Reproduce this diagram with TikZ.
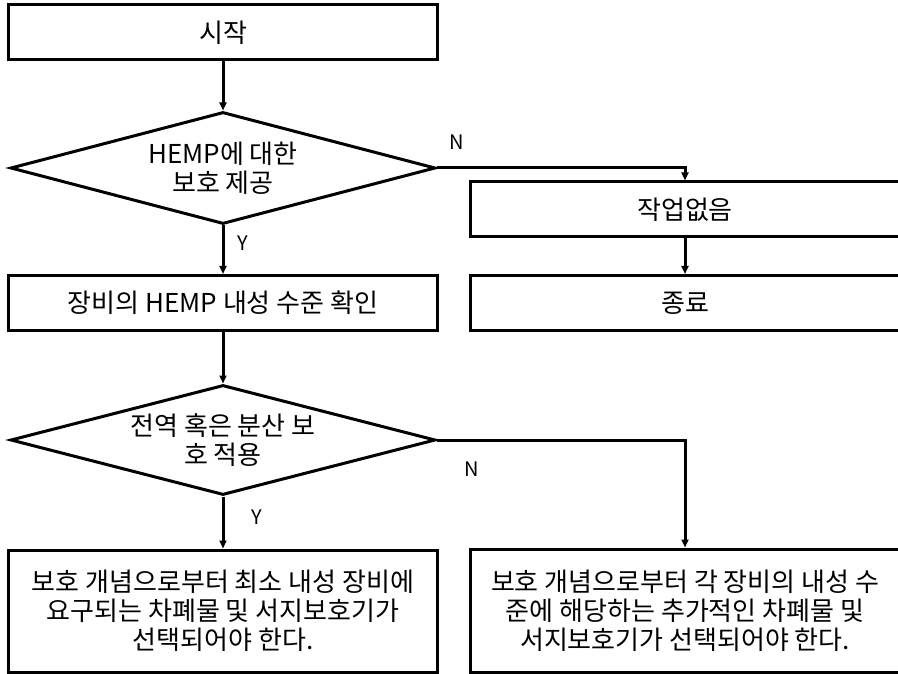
\documentclass[tikz,border=0pt]{standalone}
\usepackage{fontspec}
\setmainfont{Noto Sans CJK KR}
\usetikzlibrary{shapes.geometric,arrows.meta}

\begin{document}
\begin{tikzpicture}[
    x=1pt, y=1pt,
    line width=3pt,
    font=\fontsize{26}{29}\selectfont,
    box/.style={draw, minimum width=429pt, minimum height=55pt, align=center, inner sep=0pt},
    rbox/.style={box, minimum width=430pt},
    cond/.style={draw, shape=diamond, aspect=3.8, minimum width=425pt, minimum height=112pt, align=center, inner sep=0pt},
    yn/.style={font=\fontsize{20}{22}\selectfont, inner sep=0pt},
    arr/.style={-{Triangle[length=8pt,width=7pt]}}
]
            \clip (0,0) rectangle (898,-674);

            \node (1) [box] at (223,-32.5) {시작};
            \node (2) [cond, node distance=135.5pt, below of=1] {HEMP에 대한\\보호 제공};
            \node (3) [box, node distance=135pt, below of=2] {장비의 HEMP 내성 수준 확인};
            \node (4) [cond, node distance=137pt, below of=3, minimum height=110pt] {전역 혹은 분산 보\\호 적용};
            \node (5) [box, node distance=171pt, below of=4, minimum height=122pt] {보호 개념으로부터 최소 내성 장비에\\요구되는 차폐물 및 서지보호기가\\선택되어야 한다.};

            \node (6) [rbox] at (685,-209.5) {작업없음};
            \node (7) [rbox, node distance=93.5pt, below of=6] {종료};
            \node (8) [rbox, node distance=307.5pt, below of=7, minimum height=123pt] {보호 개념으로부터 각 장비의 내성 수\\준에 해당하는 추가적인 차폐물 및\\서지보호기가 선택되어야 한다.};

            \draw [arr] (1) -- (2);
            \draw [arr] (2) -- node (y1) [yn, pos=0.37, right=13pt] {Y} (3);
            \draw [arr] (2.east) -| node (n1) [yn, pos=0.04, above=17pt] {N} (6.north);
            \draw [arr] (6) -- (7);

            \draw [arr] (3) -- (4);
            \draw [arr] (4) -- node (y2) [yn, pos=0.4, right=27pt] {Y} (5);
            \draw [arr] (4.east) -| node (n2) [yn, pos=0.07, below=20pt] {N} (8.north);
        \end{tikzpicture}
\end{document}
